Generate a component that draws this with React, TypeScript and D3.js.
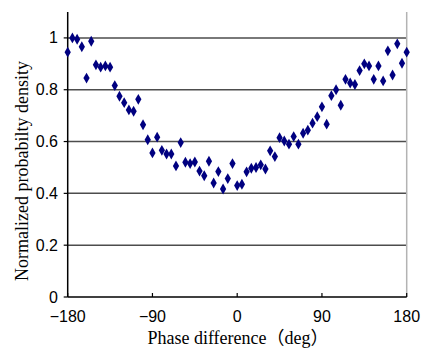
import React from 'react';
import { scaleLinear, symbol, symbolDiamond } from 'd3';

// phase difference in degrees, 5 deg steps
const phase = [
  -180, -175, -170, -165, -160, -155, -150, -145, -140, -135, -130, -125, -120,
  -115, -110, -105, -100, -95, -90, -85, -80, -75, -70, -65, -60, -55, -50, -45,
  -40, -35, -30, -25, -20, -15, -10, -5, 0, 5, 10, 15, 20, 25, 30, 35, 40, 45,
  50, 55, 60, 65, 70, 75, 80, 85, 90, 95, 100, 105, 110, 115, 120, 125, 130, 135,
  140, 145, 150, 155, 160, 165, 170, 175, 180,
];
const density = [
  0.945, 1.0, 0.995, 0.966, 0.845, 0.987, 0.896, 0.887, 0.892, 0.887, 0.816, 0.775, 0.75,
  0.722, 0.717, 0.763, 0.665, 0.607, 0.556, 0.617, 0.566, 0.552, 0.552, 0.506, 0.596, 0.52,
  0.515, 0.521, 0.486, 0.468, 0.524, 0.44, 0.484, 0.417, 0.457, 0.515, 0.43, 0.435, 0.483,
  0.497, 0.5, 0.51, 0.494, 0.564, 0.542, 0.615, 0.602, 0.59, 0.619, 0.59, 0.632, 0.644, 0.671,
  0.696, 0.734, 0.667, 0.777, 0.8, 0.74, 0.84, 0.826, 0.82, 0.874, 0.9, 0.892, 0.84, 0.892,
  0.834, 0.95, 0.857, 0.977, 0.902, 0.945,
];
const xTicks = [-180, -90, 0, 90, 180];
const yTicks = [0, 0.2, 0.4, 0.6, 0.8, 1];
const gridLines = [0.2, 0.4, 0.6, 0.8, 1];

const width = 430;
const height = 350;

const App = () => {
  const x = scaleLinear().domain([-180, 180]).range([67.7, 406.7]);
  const y = scaleLinear().domain([0, 1.1]).range([297, 12]);
  const diamond = symbol().type(symbolDiamond).size(34)();
  const sans = 'Liberation Sans, Arial, sans-serif';
  const serif = 'Liberation Serif, Times New Roman, "Noto Sans CJK JP", serif';

  return (
    <svg width={width} height={height} style={{ position: 'absolute', left: 0, top: 0, background: '#fff' }}>
      {/* grid */}
      {gridLines.map(v => (
        <line key={v} x1={x(-180)} x2={x(180)} y1={y(v)} y2={y(v)} stroke="#4d4d4d" strokeWidth={1.5} />
      ))}
      {/* right border */}
      <line x1={x(180)} x2={x(180)} y1={y(1.1)} y2={y(0)} stroke="#b3b3b3" strokeWidth={1.5} />
      {/* axes */}
      <line x1={x(-180)} x2={x(-180)} y1={y(1.1)} y2={y(0)} stroke="#000" strokeWidth={1.5} />
      <line x1={x(-180)} x2={x(180)} y1={y(0)} y2={y(0)} stroke="#000" strokeWidth={1.5} />
      {yTicks.map(v => (
        <g key={v}>
          <line x1={x(-180) - 4} x2={x(-180)} y1={y(v)} y2={y(v)} stroke="#000" strokeWidth={1.2} />
          <text x={58} y={y(v) + 5.5} textAnchor="end" fontFamily={sans} fontSize={16}>{v}</text>
        </g>
      ))}
      {xTicks.map(v => (
        <g key={v}>
          <line x1={x(v)} x2={x(v)} y1={y(0)} y2={y(0) - 4} stroke="#000" strokeWidth={1.2} />
          <text x={x(v)} y={322} textAnchor="middle" fontFamily={sans} fontSize={16}>
            {v < 0 ? '\u2212' + Math.abs(v) : v}
          </text>
        </g>
      ))}
      {/* points */}
      {phase.map((p, i) => (
        <path key={p} d={diamond} transform={`translate(${x(p)},${y(density[i])})`} fill="#000080" />
      ))}
      <text x={238} y={344} textAnchor="middle" fontFamily={serif} fontSize={18}>Phase difference（deg）</text>
      <text transform="translate(28,171) rotate(-90)" textAnchor="middle" fontFamily={serif} fontSize={18}>
        Normalized probabilty density
      </text>
    </svg>
  );
};

export default App;
